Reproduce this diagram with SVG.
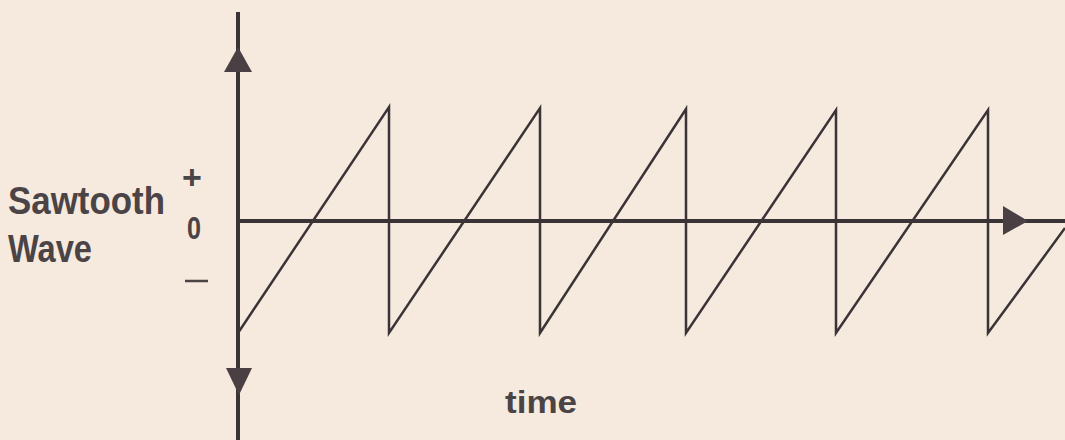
<svg xmlns="http://www.w3.org/2000/svg" width="1065" height="440" viewBox="0 0 1065 440">
  <style>
    .axis { stroke: #3b3436; stroke-width: 4; fill: none; }
    .wave { stroke: #3b3436; stroke-width: 2.5; fill: none; stroke-linejoin: miter; }
    .head { fill: #4a4043; }
    .lbl { font-family: "Liberation Sans", Arial, sans-serif; font-weight: bold; fill: #4a4446; }
  </style>
  <rect x="0" y="0" width="1065" height="440" fill="#f6e9de"/>
  <g id="connectors">
    <line class="axis" x1="238" y1="12" x2="238" y2="440"/>
    <line class="axis" x1="238" y1="221" x2="1065" y2="221"/>
    <polygon class="head" points="238,47 224,72 252,72"/>
    <polygon class="head" points="226,368 252,368 239,395"/>
    <polygon class="head" points="1003,206 1028,221 1003,235"/>
  </g>
  <g id="sawtooth">
    <path class="wave" d="M238,333 L389,107 L389,333 L540,108 L540,333 L686,109 L686,333 L836,110 L836,333 L988,110 L988,333 L1065,228"/>
  </g>
  <g id="label-title">
    <text class="lbl" x="8" y="214" font-size="38" textLength="157" lengthAdjust="spacingAndGlyphs">Sawtooth</text>
    <text class="lbl" x="8" y="262" font-size="38" textLength="84" lengthAdjust="spacingAndGlyphs">Wave</text>
  </g>
  <g id="label-signs">
    <text class="lbl" x="192" y="189" font-size="34" font-weight="normal" text-anchor="middle">+</text>
    <text class="lbl" x="194" y="239" font-size="31" text-anchor="middle" textLength="14" lengthAdjust="spacingAndGlyphs">0</text>
    <line x1="185" y1="281" x2="208" y2="281" stroke="#4a4446" stroke-width="2.5"/>
  </g>
  <g id="label-time">
    <text class="lbl" x="505" y="413" font-size="32" textLength="72" lengthAdjust="spacingAndGlyphs">time</text>
  </g>
</svg>
